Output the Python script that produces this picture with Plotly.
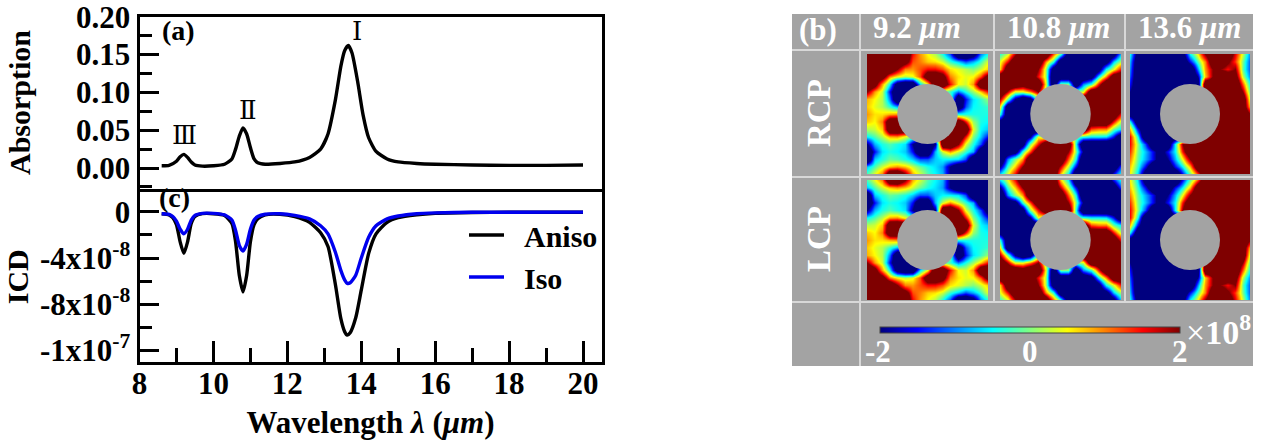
import plotly.graph_objects as go

W, H = 1264, 440
FONT = "Liberation Serif"

# ---------- data ----------
wl_abs = [8.6,8.8,9.0,9.1,9.2,9.3,9.4,9.5,9.7,10,10.3,10.5,10.6,10.7,10.8,10.9,11,11.1,11.2,11.4,11.8,12.2,12.6,12.9,13.1,13.3,13.45,13.55,13.65,13.75,13.9,14.05,14.2,14.4,14.7,15,15.5,16,17,18,19,20]
absorption = [.003,.0035,.009,.015,.018,.014,.008,.004,.0025,.003,.005,.012,.025,.042,.053,.045,.027,.012,.007,.005,.006,.008,.014,.025,.045,.09,.135,.155,.162,.152,.115,.07,.04,.022,.012,.008,.006,.005,.004,.0035,.0035,.004]

wl_icd = [8.6,8.8,8.9,9.0,9.1,9.2,9.3,9.4,9.5,9.7,10,10.3,10.5,10.6,10.7,10.8,10.9,11,11.1,11.2,11.4,11.8,12.2,12.6,12.9,13.1,13.3,13.45,13.55,13.62,13.7,13.85,14.0,14.2,14.4,14.7,15,15.5,16,17,18,20]
icd_aniso = [-.15,-.25,-.5,-1.1,-2.6,-3.6,-2.6,-1.0,-.4,-.15,-.15,-.3,-1.0,-2.6,-5.5,-6.95,-5.5,-2.6,-1.1,-.6,-.25,-.2,-.4,-.9,-1.8,-3,-6.3,-9.3,-10.4,-10.7,-10.5,-9.2,-6.8,-3.6,-1.9,-.9,-.5,-.25,-.12,-.05,-.03,-.02]
icd_iso = [-.15,-.2,-.4,-.8,-1.5,-1.9,-1.5,-.7,-.3,-.12,-.12,-.25,-.7,-1.6,-2.9,-3.4,-2.8,-1.5,-.7,-.4,-.2,-.15,-.3,-.6,-1.2,-1.9,-3.5,-5.1,-5.9,-6.2,-6.15,-5.5,-4,-2.2,-1.2,-.6,-.35,-.15,-.08,-.03,-.02,-.01]

abs_ticks = [0, .05, .10, .15, .20]
abs_labels = ["0.00", "0.05", "0.10", "0.15", "0.20"]
icd_ticks = [0, -4, -8, -12]
icd_labels = ["0", "-4x10<sup>-8</sup>", "-8x10<sup>-8</sup>", "-1x10<sup>-7</sup>"]
wl_ticks = [8, 10, 12, 14, 16, 18, 20]
wavelength_titles = ["9.2 <i>μm</i>", "10.8 <i>μm</i>", "13.6 <i>μm</i>"]

field_92 = [
[3,3,3,3,3,3,1.5,.9,.5,.2,-.4,-1.2,-3,-3,-2.5,-1,-.4],
[3,3,3,3,3,2.5,1.2,1,.7,.6,.3,-.3,-.7,-1.2,-.8,-.3,.4],
[3,3,3,3,2,1,.9,1.2,1.5,1.5,1.2,.6,.4,.2,0,.3,.7],
[3,3,2.5,1,.5,.2,.4,1.2,3,3,2.5,1,.6,.4,.5,1.2,2.5],
[3,2.5,.9,-.5,-2.5,-3,-3,-.6,.5,3,3,1.5,.5,.3,.9,3,3],
[2,.9,.3,-1.5,-3,-3,-3,-3,0,0,0,-.3,-1,-.4,.1,.7,1.5],
[.8,.5,.2,-1,-3,-3,0,0,0,0,0,0,-3,-1.5,-.6,-.3,.1],
[.7,.4,.2,-.3,-.8,0,0,0,0,0,0,0,-3,-1.2,-.5,-.4,-.3],
[.9,.6,.6,.8,.9,0,0,0,0,0,0,0,-.4,-.4,-.4,-.4,-.4],
[.7,.5,1,3,3,0,0,0,0,0,0,0,3,1.5,.1,-.4,-.5],
[.2,.3,.7,3,3,3,0,0,0,0,0,3,3,3,.4,-.5,-.7],
[-.5,-.2,.2,.8,.9,.4,0,0,0,0,3,3,3,1.5,0,-.7,-1.5],
[-2,-.8,-.4,-.2,-.4,-.6,-2,-3,-3,-2,3,3,2,.4,-.4,-1.2,-2.5],
[-3,-1.5,-.6,-.4,-.5,-.7,-1.5,-3,-3,-.8,.3,.9,.3,-.3,-.8,-3,-3],
[-3,-.7,-.4,-.1,-.2,-.4,-.7,-1.2,-1.2,-.7,-.5,-.5,-.6,-1.2,-3,-3,-3],
[-.7,-.2,.3,.7,.9,.7,.3,-.1,-.4,-.6,-.9,-2,-3,-3,-3,-3,-3],
[-.2,.4,1,3,3,2,.8,.3,-.2,-.5,-.8,-2,-3,-3,-3,-3,-3],
]
field_108 = [
[-.3,.3,1.8,3,3,3,3,1.2,-.3,-2.5,-3,-3,-3,-3,-3,-2.5,-.7],
[.4,1.5,3,3,3,3,1,-.3,-3,-3,-3,-3,-3,-3,-2.5,-.7,.2],
[.7,3,3,3,3,2,.2,-2.5,-3,-3,-3,-3,-3,-2.5,-.5,.4,1.5],
[3,3,3,3,3,1.5,.2,-3,-3,-3,-3,-3,-2.5,-.5,1,3,3],
[3,3,3,2.5,3,3,.5,-3,0,0,-3,-1,-.3,1.5,3,3,3],
[3,1.8,.4,.4,1,2,0,0,0,0,0,.3,3,3,3,3,3],
[1.8,-.1,-2,-3,-2.5,0,0,0,0,0,0,3,3,3,3,3,3],
[.5,-3,-3,-3,-3,-3,0,0,0,0,0,3,3,3,3,3,3],
[-.4,-3,-3,-3,-3,0,0,0,0,0,0,3,3,3,3,3,1.5],
[-2.5,-3,-3,-3,-3,-3,0,0,0,0,0,3,3,3,3,1.5,.2],
[-3,-3,-3,-3,-3,-3,0,0,0,0,0,3,1.2,1,1,-.1,-.6],
[-3,-3,-3,-3,-2,.4,0,0,0,0,0,-.3,-.5,-.5,-.6,-1.5,-3],
[-3,-3,-3,-2.5,0,1.5,3,3,3,3,-.3,-3,-3,-3,-3,-3,-3],
[-3,-3,-2.5,-.3,1.2,3,3,3,3,2,.1,-2,-3,-3,-3,-3,-3],
[-3,-1,0,.9,3,3,3,3,3,1.2,-.4,-3,-3,-3,-3,-3,-3],
[-2,-.3,.7,2,3,3,3,3,1.7,.3,-1.5,-3,-3,-3,-3,-3,-1.2],
[-.6,.4,1.5,3,3,3,3,3,.7,-.5,-3,-3,-3,-3,-3,-1.5,-.4],
]
field_136 = [
[-.5,-2.5,-3,-3,-3,-3,-3,-2.5,-.5,.5,2,3,3,3,1.6,.3,-1],
[-.8,-3,-3,-3,-3,-3,-3,-3,-1.5,-.2,1,3,3,2.2,1.3,0,-1.2],
[-1,-3,-3,-3,-3,-3,-3,-3,-3,-1,.9,2,2,1.5,2,-.1,-1.2],
[-1.2,-3,-3,-3,-3,-3,-3,-3,-3,-2,.7,2,3,3,2.5,.3,-1],
[-1.5,-3,-3,-3,-3,-3,-3,-3,-3,-3,3,3,3,3,3,1.2,-.5],
[-2,-3,-3,-3,-3,-3,-3,-3,-3,-3,3,3,3,3,3,2,-.2],
[-2,-3,-3,-3,-3,-3,-3,-3,-3,-3,3,3,3,3,3,3,.2],
[-2.5,-3,-3,-3,-3,-3,-3,-3,-3,-3,3,3,3,3,3,3,.7],
[-2.5,-3,-3,-3,-3,-3,-3,-3,-3,-3,3,3,3,3,3,3,2],
[-.5,-3,-3,-3,-3,-3,-3,-3,-3,-3,3,3,3,3,3,3,3],
[.7,-1.5,-3,-3,-3,-3,-3,-3,-3,-3,3,3,3,3,3,3,3],
[1.5,-.4,-3,-3,-3,-3,-3,-3,-3,-3,3,3,3,3,3,3,3],
[1.5,.1,-1.2,-3,-3,-3,-.5,2,3,3,3,3,3,3,3,3,3],
[1.3,0,-.7,-1.5,-2.5,-1.5,-.5,1.5,3,3,3,3,3,3,3,3,3],
[1,-.1,-.8,-1.5,-2.5,-2,-.8,.5,2,3,3,3,3,3,3,3,3],
[.7,-.3,-1.5,-3,-3,-3,-1.5,-.5,.8,3,3,3,3,3,3,3,3],
[.5,-.6,-2.5,-3,-3,-3,-3,-1.5,-.1,1.2,3,3,3,3,3,3,3],
]

# ---------- helpers ----------
def fx(px): return px / W
def fy(py): return 1 - py / H

JET = [[0, "#00007f"], [.125, "#0000ff"], [.375, "#00ffff"], [.5, "#80ff80"],
       [.625, "#ffff00"], [.875, "#ff0000"], [1, "#7f0000"]]
GRAY = "#a3a3a3"
LINE = "#d8d8d8"

fig = go.Figure()
tickfont = dict(family=FONT, size=31, color="black", weight=700)
titlefont = dict(family=FONT, size=30, color="black", weight=700)

curve = dict(width=3.4, shape="spline", smoothing=.6)
fig.add_trace(go.Scatter(x=wl_abs, y=absorption, mode="lines", showlegend=False,
                         line=dict(color="black", **curve), xaxis="x", yaxis="y"))
fig.add_trace(go.Scatter(x=wl_icd, y=icd_aniso, mode="lines", name="&nbsp;&nbsp;<b>Aniso</b>",
                         line=dict(color="black", **curve), xaxis="x2", yaxis="y2"))
fig.add_trace(go.Scatter(x=wl_icd, y=icd_iso, mode="lines", name="&nbsp;&nbsp;<b>Iso</b>",
                         line=dict(color="#0000ee", **curve), xaxis="x2", yaxis="y2"))

layout = dict(
    width=W, height=H, autosize=False, margin=dict(l=0, r=0, t=0, b=0, autoexpand=False),
    paper_bgcolor="white", plot_bgcolor="rgba(0,0,0,0)",
    coloraxis=dict(
        cmin=-2, cmax=2, colorscale=JET,
        colorbar=dict(orientation="h", x=fx(880), xanchor="left", y=fy(327), yanchor="top",
                      lenmode="pixels", len=300, thicknessmode="pixels", thickness=6,
                      showticklabels=False, ticks="",
                      outlinewidth=1, outlinecolor="#444", xpad=0, ypad=0),
    ),
    legend=dict(x=fx(464), y=fy(209), xanchor="left", yanchor="top", bgcolor="rgba(0,0,0,0)",
                font=dict(family=FONT, size=30, color="black"), itemwidth=35, tracegroupgap=0),
)

axis_common = dict(showgrid=False, zeroline=False, showline=True, linecolor="black", linewidth=3, mirror=True,
                   ticks="inside", tickcolor="black", tickwidth=3, automargin=False, ticklabeloverflow="allow")
layout["xaxis"] = dict(axis_common, domain=[fx(139.5), fx(601.5)], range=[8, 20.5], anchor="y",
                       showticklabels=False, ticks="")
layout["yaxis"] = dict(axis_common, domain=[fy(188.5), fy(16.5)], range=[-.0271, .2003], anchor="x",
                       tickvals=abs_ticks, ticktext=abs_labels, ticklen=19, tickfont=tickfont,
                       minor=dict(dtick=.025, tick0=.025, ticks="inside", ticklen=12, tickwidth=3, tickcolor="black"),
                       title=dict(text="Absorption", font=titlefont, standoff=37))
layout["xaxis2"] = dict(axis_common, domain=[fx(139.5), fx(601.5)], range=[8, 20.5], anchor="y2",
                        tickvals=wl_ticks, ticklen=21, tickfont=tickfont, ticklabelstandoff=-8,
                        minor=dict(dtick=1, tick0=9, ticks="inside", ticklen=14, tickwidth=3, tickcolor="black"),
                        title=dict(text="Wavelength <i>λ</i> (<i>μm</i>)",
                                   font=dict(family=FONT, size=31, color="black", weight=700), standoff=14))
layout["yaxis2"] = dict(axis_common, domain=[fy(362), fy(191.5)], range=[-13.04, 1.78], anchor="x2",
                        tickvals=icd_ticks, ticktext=icd_labels, ticklen=19, tickfont=tickfont,
                        minor=dict(dtick=2, tick0=0, ticks="inside", ticklen=12, tickwidth=3, tickcolor="black"),
                        title=dict(text="ICD", font=titlefont, standoff=3))

shapes = [dict(type="rect", xref="paper", yref="paper", x0=fx(792), x1=fx(1253), y0=fy(366), y1=fy(14),
               fillcolor=GRAY, line=dict(width=0), layer="below")]
for px in [860, 994, 1125]:
    bottom = 366 if px == 860 else 302
    shapes.append(dict(type="line", xref="paper", yref="paper", x0=fx(px), x1=fx(px), y0=fy(bottom), y1=fy(14),
                       line=dict(color=LINE, width=2), layer="below"))
for py in [50, 177, 302]:
    shapes.append(dict(type="line", xref="paper", yref="paper", x0=fx(792), x1=fx(1253), y0=fy(py), y1=fy(py),
                       line=dict(color=LINE, width=2), layer="below"))

panel_x = [(867, 988), (1000, 1121), (1130, 1250)]
panel_y = [(54, 174), (180, 300)]
fields = [field_92, field_108, field_136]
n = 3
for row, (y0, y1) in enumerate(panel_y):
    for col, (x0, x1) in enumerate(panel_x):
        z = fields[col] if row == 0 else fields[col][::-1]
        fig.add_trace(go.Heatmap(z=z, coloraxis="coloraxis", zsmooth="best",
                                 hoverinfo="skip", xaxis=f"x{n}", yaxis=f"y{n}"))
        layout[f"xaxis{n}"] = dict(domain=[fx(x0), fx(x1)], range=[0, 16], visible=False, anchor=f"y{n}")
        layout[f"yaxis{n}"] = dict(domain=[fy(y1), fy(y0)], range=[16, 0], visible=False, anchor=f"x{n}")
        shapes.append(dict(type="circle", xref=f"x{n}", yref=f"y{n}", x0=4, x1=12, y0=4, y1=12,
                           fillcolor=GRAY, line=dict(width=0), layer="above"))
        n += 1
layout["shapes"] = shapes


def note(text, px, py, size, color="black", angle=0, bold=True, family=FONT):
    return dict(text=text, xref="paper", yref="paper", x=fx(px), y=fy(py), showarrow=False,
                xanchor="center", yanchor="middle", textangle=angle,
                font=dict(family=family, size=size, color=color, weight=700 if bold else 400))


SERIF = "DejaVu Serif"
layout["annotations"] = [
    note("(a)", 178, 31, 28),
    note("(c)", 175, 198, 28),
    note("Ⅰ", 357, 31, 26, bold=False, family=SERIF),
    note("Ⅱ", 248, 110, 26, bold=False, family=SERIF),
    note("Ⅲ", 184, 135, 26, bold=False, family=SERIF),
    note("(b)", 818, 29, 31, "white"),
    note(wavelength_titles[0], 917, 28, 31, "white"),
    note(wavelength_titles[1], 1058, 28, 31, "white"),
    note(wavelength_titles[2], 1189, 28, 31, "white"),
    note("RCP", 819, 113, 33, "white", -90),
    note("LCP", 819, 239, 33, "white", -90),
    note("-2", 878, 351, 31, "white"),
    note("0", 1030, 351, 31, "white"),
    note("2", 1180, 351, 31, "white"),
    note("×<b>10<sup>8</sup></b>", 1218, 330, 34, "white", bold=False),
]
fig.update_layout(**layout)
fig.write_html("out.html", config=dict(displayModeBar=False), post_script="document.body.style.margin='0';")
